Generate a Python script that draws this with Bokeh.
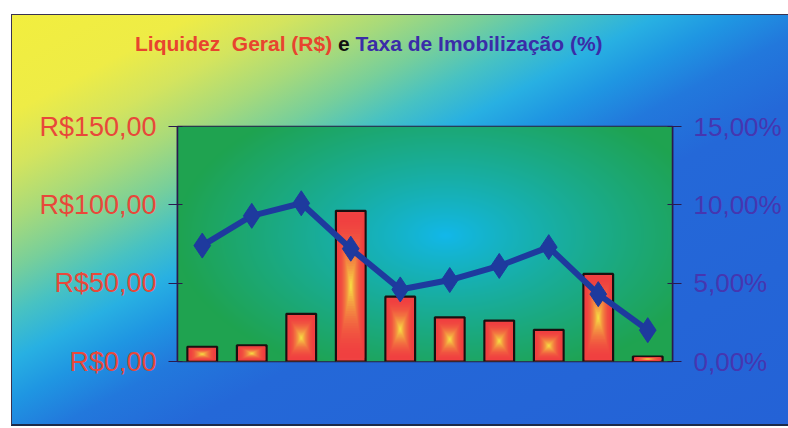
import numpy as np
from bokeh.plotting import figure
from bokeh.layouts import column
from bokeh.models import Range1d, LinearAxis, FixedTicker, Div, InlineStyleSheet
from bokeh.embed import file_html
from bokeh.resources import INLINE

# --- data -----------------------------------------------------------------
periodos = [1, 2, 3, 4, 5, 6, 7, 8, 9, 10]
liquidez_geral = [9.4, 10.3, 30.4, 96.2, 41.4, 28.2, 26.1, 20.2, 55.9, 3.2]      # R$
taxa_imobilizacao = [7.4, 9.3, 10.1, 7.2, 4.6, 5.2, 6.1, 7.3, 4.3, 2.0]          # %

rs_ticks = [0, 50, 100, 150]
rs_labels = ["R$0,00", "R$50,00", "R$100,00", "R$150,00"]
pct_ticks = [0, 5, 10, 15]
pct_labels = ["0,00%", "5,00%", "10,00%", "15,00%"]

titulo_rs = "Liquidez  Geral (R$)"
titulo_e = "e"
titulo_pct = "Taxa de Imobilização (%)"

# --- geometry ---------------------------------------------------------------
W, H = 788, 428
HEAD = 60                                    # strip holding the title
FL, FR, FT, FB = 177, 672, 126, 361          # frame edges in page pixels
x = np.arange(len(periodos))
xr = Range1d(-0.5, len(periodos) - 0.5)
yr = Range1d(rs_ticks[0], rs_ticks[-1])

# title in three colours
title_html = (
    '<div style="padding:34px 0 0 135px; font-family:\'Liberation Sans\'; '
    'font-weight:bold; font-size:21px; line-height:20px; white-space:pre;">'
    f'<span style="color:#e8442e">{titulo_rs}</span> '
    f'<span style="color:#111111">{titulo_e}</span> '
    f'<span style="color:#3a2ca8">{titulo_pct}</span></div>'
)
head = Div(text=title_html, width=W, height=HEAD, margin=(0, 0, 0, 0))

p = figure(width=W, height=H - HEAD, x_range=xr, y_range=yr,
           output_backend="svg", toolbar_location=None,
           x_axis_location=None, y_axis_location="left",
           title_location=None,
           min_border_left=FL, min_border_right=W - FR,
           min_border_top=FT - HEAD, min_border_bottom=H - FB)
p.extra_y_ranges = {"pct": Range1d(pct_ticks[0], pct_ticks[-1])}

p.border_fill_alpha = 0
p.background_fill_alpha = 0
p.grid.visible = False
p.outline_line_color = "#2a1a4e"
p.outline_line_width = 1.5

# plot area: green with a cyan glow in the middle
nx, ny = FR - FL, FB - FT
gx, gy = np.meshgrid(np.arange(nx) + 0.5, np.arange(ny) + 0.5)
cx, cy = 445 - FL, FB - 235
d = np.sqrt(((gx - cx) / 270.0) ** 2 + ((gy - cy) / 150.0) ** 2)
t = np.clip(d, 0, 1) ** 0.85
green = np.array([0x1f, 0xa3, 0x50], float)
cyan = np.array([0x12, 0xb8, 0xec], float)
rgb = cyan[None, None, :] * (1 - t[..., None]) + green[None, None, :] * t[..., None]
img = np.empty((ny, nx), dtype=np.uint32)
view = img.view(dtype=np.uint8).reshape((ny, nx, 4))
view[..., :3] = rgb.astype(np.uint8)
view[..., 3] = 255
p.image_rgba(image=[img], x=xr.start, y=yr.start, dw=xr.end - xr.start,
             dh=yr.end - yr.start, level="image")

# bars: red with a yellow glow toward the centre
bw = 0.6
vals = np.array(liquidez_geral, float)
red = np.array([0xf0, 0x40, 0x40], float)
yellow = np.array([0xf8, 0xe8, 0x44], float)
p.vbar(x=x, top=vals, bottom=0, width=bw, fill_color="#f04242",
       line_color="#1a1010", line_width=2.2)
n_layers = 30
for k in range(1, n_layers):
    s = 1 - k / n_layers
    tt = (1 - s) ** 2.0
    c = red * (1 - tt) + yellow * tt
    col = "#%02x%02x%02x" % tuple(int(v) for v in c)
    p.rect(x=x, y=vals / 2, width=(bw - 0.04) * s, height=np.maximum(vals - 1.2, 0) * s,
           fill_color=col, line_color=None)

# line: taxa de imobilização on the right axis
p.line(x=x, y=taxa_imobilizacao, y_range_name="pct", line_color="#1e3a9e", line_width=6)
p.scatter(x=x, y=taxa_imobilizacao, y_range_name="pct", marker="diamond", size=25,
          fill_color="#1e3a9e", line_color="#1e3a9e")

# axes
la = p.yaxis[0]
la.ticker = FixedTicker(ticks=rs_ticks)
la.major_label_overrides = {v: s for v, s in zip(rs_ticks, rs_labels)}
ra = LinearAxis(y_range_name="pct", ticker=FixedTicker(ticks=pct_ticks),
                major_label_overrides={v: s for v, s in zip(pct_ticks, pct_labels)})
p.add_layout(ra, "right")
for ax, col, fs in ((la, "#e8483a", "27px"), (ra, "#4636b0", "26px")):
    ax.axis_line_color = "#2a1a4e"
    ax.axis_line_width = 1.5
    ax.major_tick_line_color = "#2a1a4e"
    ax.major_tick_in = 5
    ax.major_tick_out = 9
    ax.minor_tick_line_color = None
    ax.major_label_text_color = col
    ax.major_label_text_font = "Liberation Sans"
    ax.major_label_text_font_size = fs
    ax.major_label_standoff = 12

# page background: diagonal yellow -> cyan -> blue panel with thin border
css = """
:host {
  background:
    linear-gradient(#3a3350,#3a3350) 11px 14px / 777px 1px no-repeat,
    linear-gradient(#3a3350,#3a3350) 11px 14px / 1px 411px no-repeat,
    linear-gradient(#1c2a48,#1c2a48) 11px 424px / 777px 2px no-repeat,
    linear-gradient(152deg,
        #f2ee3e 0%, #eeec46 12%, #d4e45e 18.5%, #a8da7a 25%, #78cf9a 31%,
        #48c2c2 36.5%, #28b0e2 42%, #1f96e2 47%, #2278dc 53%,
        #2468d8 61%, #2462d6 100%) 11px 14px / 777px 411px no-repeat,
    #ffffff;
}
"""
page = column(head, p, spacing=0, width=W, height=H)
page.stylesheets = [InlineStyleSheet(css=css)]

open("out.html", "w").write(file_html(page, INLINE))
